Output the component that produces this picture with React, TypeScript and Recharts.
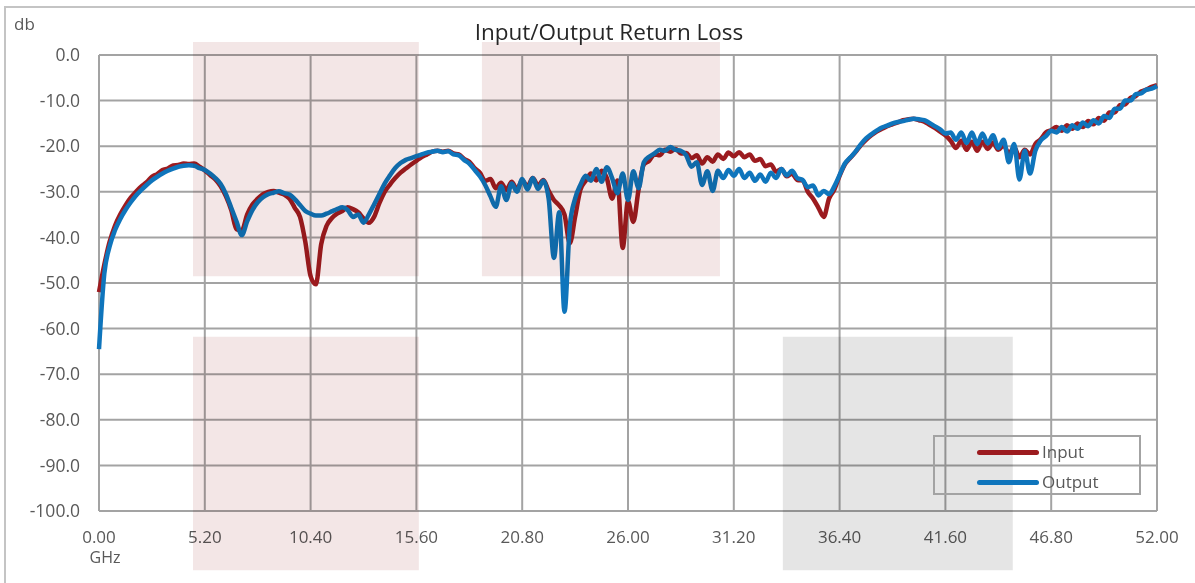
import React from 'react';
import { LineChart, Line, XAxis, YAxis, CartesianGrid, ReferenceArea } from 'recharts';

// Frequency sampling step of the measurement (GHz)
const FREQ_STEP_GHZ = 0.26;

const inputDb: number[] = [
  -52, -46, -41, -37.5, -35, -33, -31.3, -30, -28.8, -27.9,
  -26.7, -26.1, -25.2, -24.9, -24.2, -24.1, -23.8, -23.9, -23.8, -24.5,
  -25.3, -26.3, -27.3, -28.8, -31.0, -34.0, -38.2, -38.5, -35.0, -32.8,
  -31.5, -30.5, -30.0, -29.8, -30.2, -30.6, -31.5, -33.5, -35.5, -41.0,
  -48.5, -50.3, -41.5, -37.5, -35.8, -34.8, -34.2, -33.4, -33.8, -34.5,
  -35.8, -36.8, -35.5, -32.5, -30.0, -28.4, -27.0, -25.8, -24.9, -24.0,
  -23.2, -22.4, -21.8, -21.2, -21.0, -21.2, -21.0, -21.6, -21.8, -22.8,
  -23.4, -24.8, -25.8, -27.6, -27.2, -29.2, -28.0, -29.6, -27.8, -29.4,
  -27.6, -28.8, -27.0, -28.6, -27.4, -29.8, -31.8, -33.0, -35.0, -41.3,
  -35.5, -29.6, -27.6, -26.0, -27.5, -25.4, -27.0, -31.5, -27.5, -42.3,
  -32.0, -36.6, -29.5, -24.0, -23.2, -21.8, -22.0, -20.8, -21.2, -20.6,
  -21.6, -21.5, -22.6, -22.0, -23.8, -22.4, -23.4, -21.8, -22.8, -21.4,
  -22.2, -21.3, -22.4, -21.8, -23.2, -22.8, -24.4, -24.0, -25.6, -25.0,
  -26.6, -26.0, -27.4, -27.5, -30.0, -31.5, -33.5, -35.5, -31.5, -29.5,
  -26.5, -24.0, -22.6, -21.3, -19.8, -18.6, -17.6, -16.8, -16.2, -15.6,
  -15.2, -14.8, -14.3, -14.1, -14.0, -14.3, -14.6, -15.3, -16.0, -16.8,
  -17.6, -18.8, -20.4, -18.8, -20.8, -19.0, -21.0, -19.0, -20.6, -19.2,
  -20.8, -19.8, -21.6, -20.2, -22.4, -20.8, -21.8, -19.5, -18.5, -17.0,
  -16.5, -15.8, -16.6, -15.4, -16.2, -15.0, -15.8, -14.5, -15.2, -13.8,
  -14.4, -12.6, -12.6, -11.0, -10.8, -9.4, -9.0, -8.0, -7.6, -7.0,
  -6.6,
];

const outputDb: number[] = [
  -64.5, -48, -42, -38.5, -36, -34, -32.3, -30.8, -29.6, -28.5,
  -27.5, -26.7, -26.0, -25.4, -24.9, -24.5, -24.3, -24.2, -24.3, -24.8,
  -25.2, -26.0, -27.0, -28.3, -30.5, -33.5, -36.5, -39.5, -36.5, -34.0,
  -32.3, -31.2, -30.5, -30.2, -29.9, -30.3, -30.6, -31.6, -32.9, -34.2,
  -34.8, -35.2, -35.2, -34.8, -34.3, -33.8, -33.4, -34.0, -35.5, -35.0,
  -36.8, -35.0, -32.8, -30.5, -28.2, -26.4, -24.8, -23.7, -23.0, -22.6,
  -22.2, -21.8, -21.4, -21.2, -21.0, -21.3, -21.1, -21.8, -22.0, -23.0,
  -23.8, -25.2, -26.6, -28.5, -31.0, -33.3, -28.8, -31.8, -28.2, -30.0,
  -27.2, -29.5, -27.0, -29.4, -27.6, -31.5, -44.5, -34.5, -56.3, -37.5,
  -31.5, -28.5, -26.5, -27.6, -25.0, -27.8, -24.6, -27.0, -30.3, -26.0,
  -31.8, -25.5, -29.2, -23.5, -22.3, -21.6, -20.8, -21.0, -20.2, -20.8,
  -21.0, -22.0, -24.5, -23.5, -28.5, -25.5, -29.8, -25.4, -27.0, -25.2,
  -26.5, -25.0, -27.0, -25.8, -27.6, -26.2, -27.8, -25.8, -27.0, -25.0,
  -26.4, -25.4, -27.0, -27.4, -29.0, -28.6, -30.8, -29.8, -30.5, -28.8,
  -26.3, -23.8, -22.5, -21.2, -19.6, -18.3, -17.4, -16.6, -15.9, -15.5,
  -15.0, -14.7, -14.5, -14.2, -14.0, -14.1, -14.3, -14.9, -15.6, -16.3,
  -17.2, -17.0, -18.6, -17.0, -19.3, -17.0, -19.5, -17.2, -19.4, -17.6,
  -20.4, -18.6, -23.5, -19.5, -27.3, -21.0, -26.0, -21.0, -18.8, -17.8,
  -16.6, -17.0, -15.8, -16.8, -15.4, -16.2, -14.8, -15.6, -14.3, -15.0,
  -13.4, -13.8, -11.8, -11.8, -10.0, -10.0, -8.6, -8.4, -7.6, -7.4,
  -6.8,
];

const xTicks: number[] = [0, 5.2, 10.4, 15.6, 20.8, 26.0, 31.2, 36.4, 41.6, 46.8, 52.0];
const yTicks: number[] = [0, -10, -20, -30, -40, -50, -60, -70, -80, -90, -100];

const seriesNames = ['Input', 'Output'];
const seriesKeys = ['input', 'output'];
const seriesColors = ['#9C1B1F', '#0F75BC'];

// decorative shaded blocks (in GHz / dB units)
const shadeBlocks = [
  { x1: 4.62, x2: 15.72, y1: 2.85, y2: -48.5, fill: '#F3E6E6' },
  { x1: 18.82, x2: 30.52, y1: 2.85, y2: -48.5, fill: '#F3E6E6' },
  { x1: 4.62, x2: 15.72, y1: -61.8, y2: -113, fill: '#F3E6E6' },
  { x1: 33.61, x2: 44.91, y1: -61.8, y2: -113, fill: '#E5E5E5' },
];

const data = inputDb.map((v, i) => ({
  ghz: +(i * FREQ_STEP_GHZ).toFixed(2),
  input: v,
  output: outputDb[i],
}));

const FONT = '"Open Sans", sans-serif';
const TEXT = '#595959';

export default function App() {
  return (
    <div
      style={{
        position: 'absolute',
        left: 0,
        top: 0,
        width: 1195,
        height: 583,
        background: '#fff',
        overflow: 'hidden',
        fontFamily: FONT,
      }}
    >
      <div
        style={{
          position: 'absolute',
          left: 4,
          top: 6,
          width: 1220,
          height: 620,
          border: '2px solid #c4c4c4',
          boxSizing: 'border-box',
        }}
      />
      <div style={{ position: 'absolute', left: 0, top: 0 }}>
        <LineChart
          width={1195}
          height={583}
          data={data}
          margin={{ top: 55, right: 38, bottom: 32, left: 0 }}
        >
          <CartesianGrid stroke="#a3a3a3" strokeWidth={2} />
          <XAxis
            dataKey="ghz"
            type="number"
            domain={[0, 52]}
            ticks={xTicks}
            interval={0}
            tickFormatter={(v: number) => v.toFixed(2)}
            axisLine={false}
            tickLine={false}
            tickSize={0}
            tickMargin={20}
            height={40}
            tick={{ fill: TEXT, fontSize: 17, fontFamily: FONT }}
          />
          <YAxis
            type="number"
            domain={[-100, 0]}
            ticks={yTicks}
            interval={0}
            tickFormatter={(v: number) => v.toFixed(1)}
            axisLine={false}
            tickLine={false}
            tickSize={0}
            tickMargin={19}
            width={99}
            tick={{ fill: TEXT, fontSize: 17.5, fontFamily: FONT }}
          />
          {seriesKeys.map((k, i) => (
            <Line
              key={k}
              dataKey={k}
              name={seriesNames[i]}
              type="monotone"
              stroke={seriesColors[i]}
              strokeWidth={4.5}
              strokeLinejoin="round"
              dot={false}
              activeDot={false}
              isAnimationActive={false}
            />
          ))}
          {shadeBlocks.map((b, i) => (
            <ReferenceArea
              key={i}
              x1={b.x1}
              x2={b.x2}
              y1={b.y1}
              y2={b.y2}
              fill={b.fill}
              fillOpacity={1}
              stroke="none"
              ifOverflow="visible"
              zIndex={3000}
              style={{ mixBlendMode: 'multiply' }}
            />
          ))}
        </LineChart>
      </div>
      <div
        style={{
          position: 'absolute',
          left: 359,
          top: 17,
          width: 500,
          textAlign: 'center',
          fontSize: 22.5,
          lineHeight: '30px',
          color: '#262626',
        }}
      >
        Input/Output Return Loss
      </div>
      <div style={{ position: 'absolute', left: 14, top: 13, fontSize: 17, lineHeight: '22px', color: TEXT }}>db</div>
      <div
        style={{
          position: 'absolute',
          left: 75,
          top: 546,
          width: 60,
          textAlign: 'center',
          fontSize: 16,
          lineHeight: '22px',
          color: TEXT,
        }}
      >
        GHz
      </div>
      <div
        style={{
          position: 'absolute',
          left: 933,
          top: 435,
          width: 208,
          height: 60,
          border: '2px solid #a3a3a3',
          boxSizing: 'border-box',
        }}
      >
        {seriesNames.map((n, i) => (
          <div
            key={n}
            style={{
              position: 'absolute',
              left: 42,
              top: 3 + i * 30,
              height: 24,
              display: 'flex',
              alignItems: 'center',
            }}
          >
            <div
              style={{
                width: 62,
                height: 5,
                borderRadius: 3,
                background: seriesColors[i],
                marginRight: 3,
              }}
            />
            <span style={{ fontSize: 17, color: TEXT, lineHeight: '24px' }}>{n}</span>
          </div>
        ))}
      </div>
    </div>
  );
}
